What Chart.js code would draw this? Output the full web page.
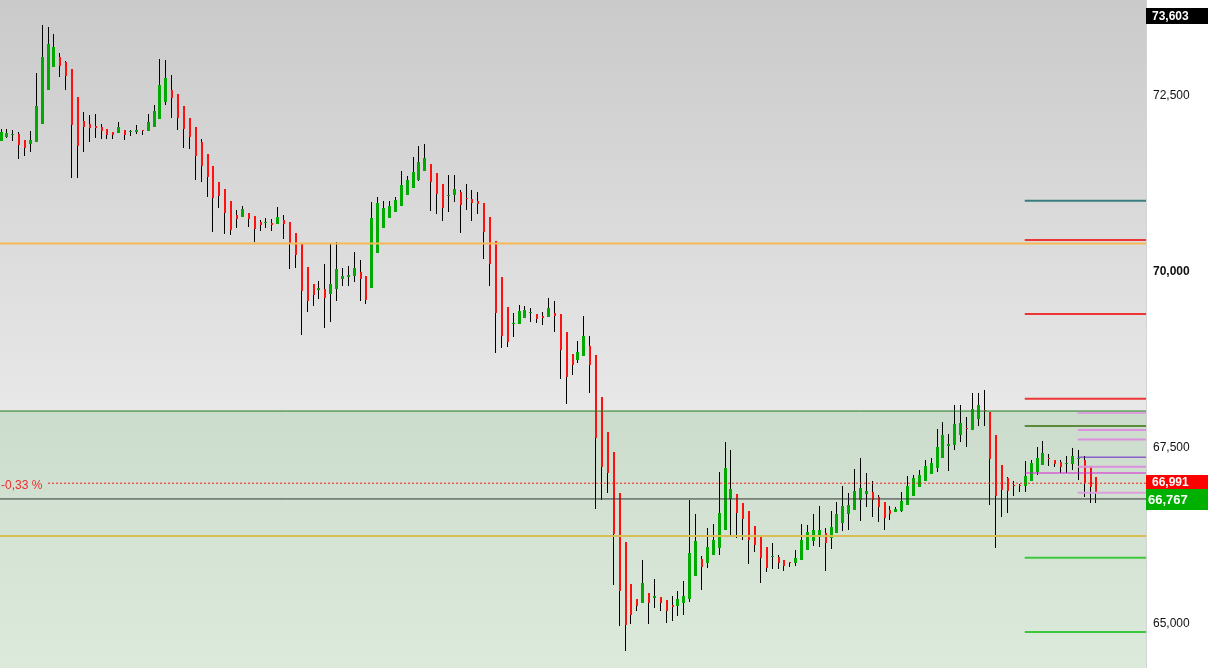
<!DOCTYPE html>
<html><head><meta charset="utf-8">
<script src="https://cdn.jsdelivr.net/npm/chart.js@4.4.1/dist/chart.umd.min.js"></script>
<style>html,body{margin:0;padding:0;background:#fff;overflow:hidden}#wrap{width:1208px;height:668px;position:relative}</style>
</head><body><div id="wrap"><canvas id="c"></canvas></div>
<script>
// ---- data (prices) ----
const openP = [
71857,71914,71949,71956,71871,71814,71843,72099,72582,72909,
73051,72980,72881,72483,72141,72099,72070,72056,72028,71985,
71971,72013,71981,71985,71999,71999,72056,72170,72412,72582,
72525,72355,72184,72056,71843,71672,71501,71274,71174,71004,
70805,70776,70833,70790,70705,70684,70691,70677,70734,70705,
70549,70392,70065,69823,69738,69752,69681,69752,69895,69923,
69937,69994,69937,69767,70264,70620,70762,70847,70933,71089,
71189,71302,71430,71530,71402,71245,71081,71089,71132,71046,
71032,71004,70975,70776,70435,69923,69496,69260,69255,69340,
69407,69397,69368,69354,69411,69397,69141,68828,68743,68800,
68942,68814,68217,67719,67435,66852,66155,65557,65344,65287,
65430,65358,65373,65330,65259,65245,65287,65344,65671,65913,
65856,65970,66069,66325,66766,66837,66709,66596,66382,66254,
66084,65947,65941,65899,65854,65856,65899,66041,66169,66240,
66283,66212,66283,66425,66553,66610,66752,66837,66866,66795,
66724,66610,66581,66596,66681,66809,66937,67022,67122,67207,
67349,67520,67534,67676,67759,67747,67904,68032,68003,67676,
67250,67065,66958,66951,66951,67022,67150,67250,67332,67321,
67292,67271,67264,67328,67321,67235,67079];
const highP = [
72028,72028,72013,71985,71871,71999,72824,73506,73478,73378,
73108,72995,72881,72483,72269,72227,72241,72099,72028,71985,
72127,72013,72013,72084,72013,72241,72369,73023,73009,72795,
72525,72355,72184,72056,71885,71672,71501,71274,71174,71004,
70876,70933,70833,70790,70734,70762,70748,70918,70805,70705,
70549,70392,70065,69823,69866,70108,70407,70421,70051,70079,
70279,70165,69937,70990,71061,71004,71004,71061,71430,71359,
71629,71786,71814,71530,71402,71245,71373,71373,71160,71245,
71160,71132,70975,70776,70435,69923,69496,69411,69525,69511,
69482,69397,69425,69624,69582,69397,69141,68828,69013,69368,
69084,68814,68217,67719,67435,66852,66155,65557,65344,65899,
65430,65629,65373,65330,65387,65458,65600,66752,66553,65956,
66354,66411,67150,67577,67463,66837,66709,66596,66382,66254,
66084,66141,65970,65899,65870,66041,66411,66397,66553,66667,
66354,66596,66724,66951,66852,67193,67349,67136,67022,66823,
66724,66667,66652,66866,67093,67107,67179,67321,67349,67762,
67861,67691,68103,68103,67932,68274,68274,68316,68003,67676,
67250,67079,67022,66980,67307,67321,67506,67591,67406,67321,
67321,67378,67491,67463,67378,67235,67079];
const lowP = [
71857,71900,71857,71601,71644,71701,71843,72099,72582,72909,
72767,72582,71331,71331,71701,71843,71900,71885,71885,71885,
71971,71871,71928,71956,71942,71999,72056,72170,72369,72184,
72013,71757,71743,71302,71274,71061,70563,70904,70534,70520,
70620,70776,70634,70421,70577,70620,70577,70677,70463,70037,
70051,69098,69425,69511,69610,69198,69283,69582,69795,69795,
69852,69582,69539,69767,70264,70620,70762,70847,70933,71089,
71189,71288,71430,70862,70819,70719,70847,70990,70549,70876,
70719,70819,70179,69795,68842,68913,68928,69070,69255,69340,
69283,69269,69240,69354,69141,68473,68117,68530,68700,68800,
68274,66624,66752,66852,65543,64960,64605,64989,65174,65287,
64989,65216,65174,65003,65031,65102,65117,65302,65671,65472,
65785,65970,65970,66325,66240,66212,66183,65842,66013,65572,
65728,65771,65771,65742,65799,65814,65899,66041,66098,66084,
65742,66055,66283,66311,66325,66610,66453,66652,66510,66439,
66325,66468,66581,66581,66681,66809,66937,67022,67122,67150,
67349,67164,67463,67577,67506,67747,67804,67804,66681,66069,
66510,66567,66809,66866,66866,67022,67107,67250,67235,67221,
67136,67136,67179,67036,66795,66709,66709];
const closeP = [
71985,71971,71952,71800,71757,71871,72355,73051,73236,73194,
72923,72781,72084,71786,72056,72042,72042,71999,71942,71942,
72056,71942,71985,72013,71995,72127,72284,72653,72753,72468,
72184,72028,71914,71644,71501,71345,71046,71075,70833,70591,
70748,70890,70748,70606,70662,70687,70662,70776,70677,70392,
70236,69724,69582,69667,69767,69624,69823,70037,69937,69951,
70051,69895,69596,70762,70975,70904,70933,71018,71231,71302,
71416,71558,71615,71274,71103,70904,71085,71174,70947,71032,
70975,70961,70563,70108,69411,69084,68999,69265,69440,69454,
69411,69326,69340,69482,69368,68885,68501,68672,68857,69084,
68672,67634,67221,67136,66269,65458,64975,65117,65245,65572,
65287,65387,65287,65174,65230,65344,65387,65998,66169,65799,
66084,66183,66567,67207,66908,66567,66482,66183,66112,65927,
65785,65951,65856,65814,65849,65927,66183,66297,66325,66325,
66141,66368,66553,66667,66681,66880,66923,66880,66752,66652,
66496,66553,66624,66738,66951,67065,67107,67235,67278,67506,
67676,67548,67833,67847,67755,68046,68103,68018,67335,66809,
66894,66880,66951,66947,67093,67278,67349,67420,67328,67264,
67221,67274,67378,67331,66994,66937,66866];

const yTicks = [65000, 67500, 70000, 72500];
const boldTick = 70000;
const yRange = [64363, 73862];
const xRange = [-0.17, 194.5];

// horizontal levels (price)
const fullLevels = [70399, 66240, 66767, 68017];
const shortLevels = [71008, 70449, 69397, 68191, 67804, 65932, 64876, 67136];
const shortStart = 173.9;
const pinkLevels = [67989, 67747, 67612, 67226, 66856, 67361];
const pinkStart = 182.9;
const dottedLevel = 66991;
const dottedStart = 7.98;
const changeText = '-0,33 %';
const zoneLevel = 68017;
const priceTags = [73603, 66991, 66767];
const priceTagText = ['73,603', '66,991', '66,767'];

// ---- styles ----
const fullStyles = [
  {color:'#f7b955', width:2},
  {color:'#d9bd55', width:2},
  {color:'#333333', width:1},
  {color:'#1d7a1d', width:1}
];
const shortStyles = [
  {color:'#3a7d7e', width:2},{color:'#ee3535', width:2},{color:'#ee3535', width:2},{color:'#ee3535', width:2},
  {color:'#5a8a3a', width:2},{color:'#3cc83c', width:2},{color:'#3cc83c', width:2},{color:'#d81ed8', width:1}
];
const pinkStyles = [
  {color:'#dda0dd', width:2},{color:'#dd90dd', width:2},{color:'#dd90dd', width:2},{color:'#dd90dd', width:2},{color:'#dda0dd', width:2},
  {color:'#6a22c8', width:1}
];
const tagStyles = [
  {bg:'#000000', fg:'#ffffff', up:10, down:6, size:12, x:1152},
  {bg:'#ff0000', fg:'#ffffff', up:8, down:6, size:12, x:1152},
  {bg:'#00b000', fg:'#ffffff', up:10, down:11, size:13, x:1148}
];

const idx = openP.map((_, i) => i);
const upIdx = idx.filter(i => closeP[i] >= openP[i]);
const downIdx = idx.filter(i => closeP[i] < openP[i]);
const datasets = [];
datasets.push({
  type:'bar', label:'wick', order:5, grouped:false,
  data: idx.map(i => ({x:i, y:[lowP[i], highP[i]]})),
  backgroundColor:'#000000', barThickness:1, inflateAmount:0, borderWidth:0
});
datasets.push({
  type:'bar', label:'up', order:4, grouped:false,
  data: upIdx.map(i => ({x:i, y:[openP[i], closeP[i]]})),
  backgroundColor:'#00aa00', barThickness:3, minBarLength:1, inflateAmount:0, borderWidth:0
});
datasets.push({
  type:'bar', label:'down', order:4, grouped:false,
  data: downIdx.map(i => ({x:i, y:[openP[i], closeP[i]]})),
  backgroundColor:'#ff1010', barThickness:2, minBarLength:1, inflateAmount:0, borderWidth:0
});
function lineDs(level, x0, st, dash) {
  return {type:'line', order:1, data:[{x:x0, y:level},{x:xRange[1], y:level}],
    borderColor:st.color, borderWidth:st.width, pointRadius:0, borderDash:dash||[], tension:0, fill:false};
}
fullLevels.forEach((v,k) => datasets.push(lineDs(v, xRange[0], fullStyles[k])));
shortLevels.forEach((v,k) => datasets.push(lineDs(v, shortStart, shortStyles[k])));
pinkLevels.forEach((v,k) => datasets.push(lineDs(v, pinkStart, pinkStyles[k])));
datasets.push(lineDs(dottedLevel, dottedStart, {color:'#ff1a1a', width:1}, [2,2]));

// snap bar elements to whole pixels for crisp candles
const snapPlugin = {
  id:'snap',
  afterDatasetsUpdate(chart) {
    chart.data.datasets.forEach((ds, di) => {
      if (ds.type !== 'bar') return;
      const meta = chart.getDatasetMeta(di);
      meta.data.forEach(el => {
        const odd = ds.barThickness % 2 === 1;
        el.x = odd ? Math.floor(el.x) + 0.5 : Math.floor(el.x) + 1;
        let top = Math.round(Math.min(el.y, el.base));
        let bot = Math.round(Math.max(el.y, el.base));
        if (bot - top < 1) bot = top + 1;
        el.y = top; el.base = bot;
      });
    });
  }
};

const bgPlugin = {
  id:'bg',
  beforeDatasetsDraw(chart) {
    const {ctx, chartArea:a, scales:{y}} = chart;
    const zy = Math.round(y.getPixelForValue(zoneLevel));
    ctx.save();
    let g = ctx.createLinearGradient(0, a.top, 0, zy);
    g.addColorStop(0, '#cacaca'); g.addColorStop(1, '#e8e8e8');
    ctx.fillStyle = g; ctx.fillRect(a.left, a.top, a.right - a.left, zy - a.top);
    g = ctx.createLinearGradient(0, zy, 0, a.bottom);
    g.addColorStop(0, '#ccdccc'); g.addColorStop(1, '#dceadc');
    ctx.fillStyle = g; ctx.fillRect(a.left, zy, a.right - a.left, a.bottom - zy);
    ctx.restore();
  },
  afterDraw(chart) {
    const {ctx, chartArea:a, scales:{y}} = chart;
    ctx.save();
    ctx.font = '12px "Liberation Sans", Arial, sans-serif';
    ctx.fillStyle = '#ee2a2a'; ctx.textBaseline = 'middle'; ctx.textAlign = 'left';
    ctx.fillText(changeText, 1, y.getPixelForValue(dottedLevel) + 2);
    priceTags.forEach((v,k) => {
      const s = tagStyles[k]; const p = Math.round(y.getPixelForValue(v));
      ctx.fillStyle = s.bg;
      ctx.fillRect(a.right, p - s.up, chart.width - a.right, s.up + s.down);
      ctx.fillStyle = s.fg;
      ctx.font = 'bold ' + s.size + 'px "Liberation Sans", Arial, sans-serif';
      ctx.fillText(priceTagText[k], s.x, p + (s.down - s.up) / 2 + 0.5);
    });
    ctx.restore();
  }
};

new Chart(document.getElementById('c'), {
  type:'bar',
  data:{datasets},
  options:{
    responsive:true, maintainAspectRatio:false, animation:false,
    layout:{padding:0},
    plugins:{legend:{display:false}, tooltip:{enabled:false}},
    scales:{
      x:{type:'linear', min:xRange[0], max:xRange[1], display:false, offset:false},
      y:{
        position:'right', min:yRange[0], max:yRange[1],
        grid:{display:false, drawTicks:false},
        border:{display:true, color:'#d4d4d4', width:1},
        afterBuildTicks(s){ s.ticks = yTicks.map(v => ({value:v})); },
        afterFit(s){ s.width = 62; s.paddingTop = 0; s.paddingBottom = 0; },
        ticks:{
          padding:7, color:'#111111',
          font:(c) => ({family:'"Liberation Sans", Arial, sans-serif', size:12, weight: (c.tick && c.tick.value === boldTick) ? 'bold' : 'normal'}),
          callback:(v) => Number(v).toLocaleString('en-US')
        }
      }
    }
  },
  plugins:[bgPlugin, snapPlugin]
});
</script>
</body></html>
